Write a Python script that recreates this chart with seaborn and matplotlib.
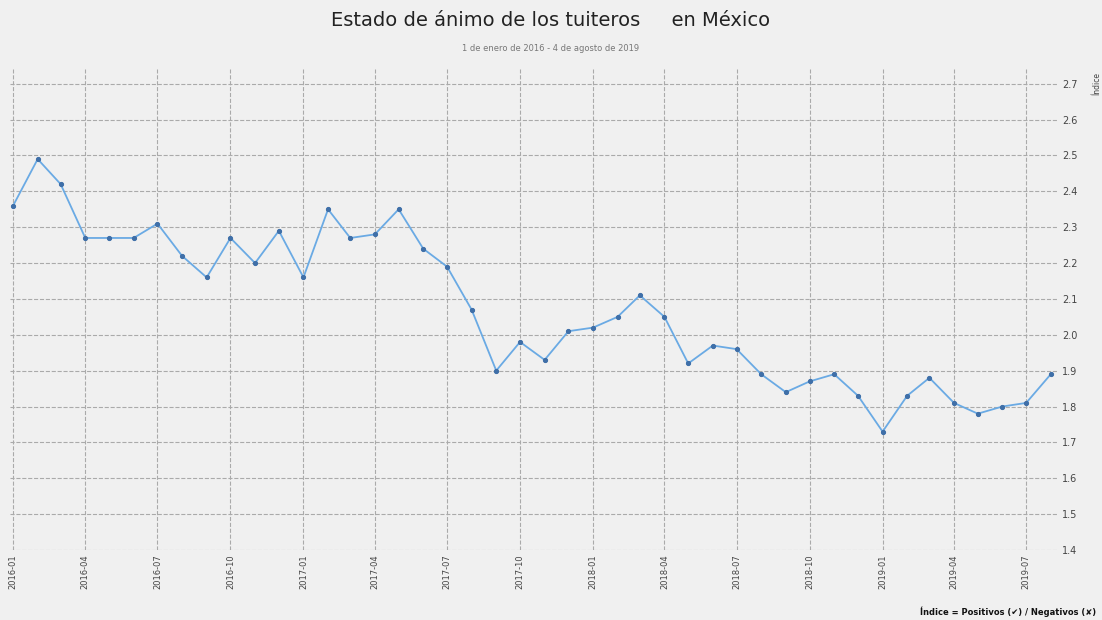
import matplotlib
matplotlib.use("Agg")
import matplotlib.pyplot as plt
import seaborn as sns
import pandas as pd
import matplotlib.dates as mdates

months = pd.date_range("2016-01-01", "2019-08-01", freq="MS")
values = [2.36, 2.49, 2.42, 2.27, 2.27, 2.27, 2.31, 2.22, 2.16, 2.27, 2.20, 2.29,
          2.16, 2.35, 2.27, 2.28, 2.35, 2.24, 2.19, 2.07, 1.90, 1.98, 1.93, 2.01,
          2.02, 2.05, 2.11, 2.05, 1.92, 1.97, 1.96, 1.89, 1.84, 1.87, 1.89, 1.83,
          1.73, 1.83, 1.88, 1.81, 1.78, 1.80, 1.81, 1.89]
yticks = [1.4, 1.5, 1.6, 1.7, 1.8, 1.9, 2.0, 2.1, 2.2, 2.3, 2.4, 2.5, 2.6, 2.7]

df = pd.DataFrame({"fecha": months, "indice": values})

sns.set_style("whitegrid")
plt.rcParams['font.family'] = ['DejaVu Sans']
fig = plt.figure(figsize=(11.02, 6.2), dpi=100, facecolor="#f0f0f0")
ax = fig.add_axes([0.009, 0.113, 0.951, 0.775])
ax.set_facecolor("#f0f0f0")
sns.lineplot(data=df, x="fecha", y="indice", ax=ax, color="#6aaae4", lw=1.3,
             marker="o", markersize=3, markerfacecolor="#3f6fa8", markeredgecolor="#3f6fa8")
ax.set_ylim(1.4, 2.74)
ax.set_yticks(yticks)
ax.set_yticklabels([f"{v:.1f}" for v in yticks], fontsize=7, color="#444")
ax.yaxis.tick_right()
ax.yaxis.set_label_position("right")
ax.set_ylabel("Índice", fontsize=5.5, color="#444")
ax.yaxis.set_label_coords(1.033, 0.97)
ax.set_xlim(pd.Timestamp("2015-12-28"), pd.Timestamp("2019-08-10"))
ax.xaxis.set_major_locator(mdates.MonthLocator(bymonth=[1, 4, 7, 10]))
ax.xaxis.set_major_formatter(mdates.DateFormatter("%Y-%m"))
plt.setp(ax.get_xticklabels(), rotation=90, fontsize=6, color="#444")
ax.set_xlabel("")
ax.grid(True, color="#aaaaaa", ls="--", lw=0.8)
for s in ax.spines.values():
    s.set_visible(False)
ax.tick_params(length=0, pad=3)

fig.text(0.5, 0.958, "Estado de ánimo de los tuiteros     en México", ha="center", fontsize=14, color="#222")
fig.text(0.5, 0.918, "1 de enero de 2016 - 4 de agosto de 2019", ha="center", fontsize=6, color="#777")
fig.text(0.995, 0.008, "Índice = Positivos (✔) / Negativos (✘)", ha="right", fontsize=6, color="#111", weight="bold")
fig.savefig("out.png", dpi=100, facecolor=fig.get_facecolor())
